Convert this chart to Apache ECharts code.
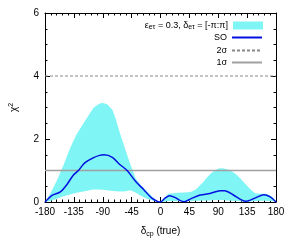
<!DOCTYPE html>
<html><head><meta charset="utf-8">
<script src="https://cdn.jsdelivr.net/npm/echarts@6/dist/echarts.min.js"></script>
<style>html,body{margin:0;padding:0;background:#fff}#c{width:294px;height:245px}</style>
</head><body><div id="c"></div>
<script>
// Band (epsilon_etau = 0.3, delta_etau in [-pi:pi])
var bandX = [-180,-171,-166,-161,-151,-141,-131,-118,-105,-98,-91,-83,-75,-70,-64,-59,-54,-47,-39,-31,-21,-11,-4,0,6,12,20,27,37,47,55,60,66,72,78,83,90,97,105,112,118,125,131,137,143,148,156,164,170,176,180];
var bandUpper = [0,0.29,0.5,0.71,1.18,1.71,2.14,2.56,2.98,3.09,3.15,3.1,2.93,2.65,2.24,1.93,1.61,1.2,0.76,0.55,0.34,0.13,0.02,0,0.12,0.26,0.28,0.29,0.3,0.32,0.4,0.5,0.62,0.77,0.9,0.98,1.06,1.07,1.03,0.96,0.87,0.74,0.6,0.47,0.35,0.27,0.26,0.26,0.22,0.13,0];
var bandLower = [0,0.04,0.07,0.11,0.18,0.24,0.29,0.34,0.4,0.4,0.39,0.37,0.35,0.34,0.33,0.33,0.34,0.37,0.3,0.2,0.1,0.04,0.01,0,0.01,0.03,0.03,0.03,0.02,0.03,0.04,0.04,0.05,0.05,0.05,0.06,0.06,0.06,0.05,0.04,0.03,0.02,0.01,0.01,0.02,0.03,0.04,0.04,0.03,0.02,0];
// SO curve
var soX = [-180,-169,-156,-146,-136,-128,-118,-105,-95,-88,-75,-64,-52,-39,-26,-14,-4,0,7,14,24,30,37,47,62,77,93,100,113,126,133,148,161,171,180];
var soY = [0,0.21,0.32,0.55,0.85,1.0,1.24,1.4,1.48,1.5,1.42,1.2,1.0,0.66,0.39,0.13,0.01,0,0.12,0.2,0.13,0.05,0.01,0.1,0.22,0.27,0.36,0.36,0.23,0.07,0.02,0.13,0.23,0.16,0];
// Sigma reference levels
var sigma2 = 4;
var sigma1 = 1;
var xRange = [-180, 180];
var xTicks = [-180,-135,-90,-45,0,45,90,135,180];
var yTicks = [0,2,4,6];

var FONT = 'Liberation Sans';
var bandName = 'band', soName = 'SO', s2Name = '2s', s1Name = '1s';
function pairs(xs, ys){ return xs.map(function(x,i){ return [x, ys[i]]; }); }

var chart = echarts.init(document.getElementById('c'), null, {renderer:'canvas'});
var axisLineStyle = {color:'#000', width:1};
function xAxisDef(pos, showLabel){
  return {
    type:'value', position:pos, min:xRange[0], max:xRange[1], interval:45,
    axisLine:{show:true, onZero:false, lineStyle:axisLineStyle},
    axisTick:{show:true, inside:true, length:5, lineStyle:{color:'#000'}},
    minorTick:{show:true, splitNumber:5, length:2.5, lineStyle:{color:'#000'}},
    splitLine:{show:false},
    axisLabel:{show:showLabel, fontFamily:FONT, fontSize:10, color:'#000', margin:5},
    name: showLabel ? '{a|δ}{b|cp}{a| (true)}' : '',
    nameLocation:'middle', nameGap:23,
    nameTextStyle:{rich:{a:{fontFamily:FONT,fontSize:10,color:'#000'},b:{fontFamily:FONT,fontSize:7,color:'#000',verticalAlign:'bottom',padding:[6,0,0,0]}}}
  };
}
function yAxisDef(pos, showLabel){
  return {
    type:'value', position:pos, min:0, max:6, interval:2,
    axisLine:{show:true, onZero:false, lineStyle:axisLineStyle},
    axisTick:{show:true, inside:true, length:5, lineStyle:{color:'#000'}},
    minorTick:{show:true, splitNumber:4, length:2.5, lineStyle:{color:'#000'}},
    splitLine:{show:false},
    axisLabel:{show:showLabel, fontFamily:FONT, fontSize:10, color:'#000', margin:6},
    name: showLabel ? '{a|χ}{b|2}' : '',
    nameLocation:'middle', nameGap:25, nameRotate:90,
    nameTextStyle:{rich:{a:{fontFamily:FONT,fontSize:10,color:'#000'},b:{fontFamily:FONT,fontSize:7,color:'#000',verticalAlign:'top',padding:[0,0,5,0]}}}
  };
}
var legendRich = {
  r:{fontFamily:FONT,fontSize:9,color:'#000'},
  s:{fontFamily:FONT,fontSize:7,color:'#000',verticalAlign:'bottom',padding:[3,0,0,0]}
};
function legendDef(name, top, isBand){
  var d = {name:name};
  var lg = {
    data:[d], orient:'vertical', align:'right', right:31, top:top,
    itemWidth:30, itemHeight:8, itemGap:0, padding:0, selectedMode:false,
    textStyle:{fontFamily:FONT,fontSize:9,color:'#000',rich:legendRich},
    formatter:function(n){
      if (n===bandName) return '{r|ε}{s|eτ}{r| = 0.3, δ}{s|eτ}{r| = [-π:π]}';
      if (n===soName) return '{r|SO}';
      if (n===s2Name) return '{r|2σ}';
      return '{r|1σ}';
    }
  };
  if (isBand) { d.icon = 'rect'; }
  else { lg.itemStyle = {opacity:0, color:'rgba(0,0,0,0)', borderWidth:0}; }
  return lg;
}
var cyan = '#80f5f5';
var option = {
  animation:false,
  grid:{left:39, right:18, top:13, bottom:43},
  xAxis:[xAxisDef('bottom', true), xAxisDef('top', false)],
  yAxis:[yAxisDef('left', true), yAxisDef('right', false)],
  legend:[
    legendDef(bandName, 21, true),
    legendDef(soName, 33),
    legendDef(s2Name, 46),
    legendDef(s1Name, 58)
  ],
  series:[
    {name:bandName, type:'custom', coordinateSystem:'cartesian2d', data:pairs(bandX, bandUpper),
     itemStyle:{color:cyan}, z:1, silent:true,
     renderItem:function(params, api){
       if (params.dataIndex !== 0) return null;
       var pts = [], i;
       for (i = 0; i < bandX.length; i++) pts.push(api.coord([bandX[i], bandUpper[i]]));
       for (i = bandX.length - 1; i >= 0; i--) pts.push(api.coord([bandX[i], bandLower[i]]));
       return {type:'polygon', shape:{points:pts}, style:{fill:cyan, stroke:null}};
     }},
    {name:s2Name, type:'line', data:[[xRange[0],sigma2],[xRange[1],sigma2]], symbol:'none',
     lineStyle:{color:'#888', width:1, type:[3,2]}, itemStyle:{color:'#888'}, z:2},
    {name:s1Name, type:'line', data:[[xRange[0],sigma1],[xRange[1],sigma1]], symbol:'none',
     lineStyle:{color:'#a0a0a0', width:1.5}, itemStyle:{color:'#a0a0a0'}, z:2},
    {name:soName, type:'line', data:pairs(soX, soY), symbol:'none', smooth:0.3,
     lineStyle:{color:'#0010e0', width:1.5}, itemStyle:{color:'#0010e0'}, z:3}
  ]
};
chart.setOption(option);
</script></body></html>
